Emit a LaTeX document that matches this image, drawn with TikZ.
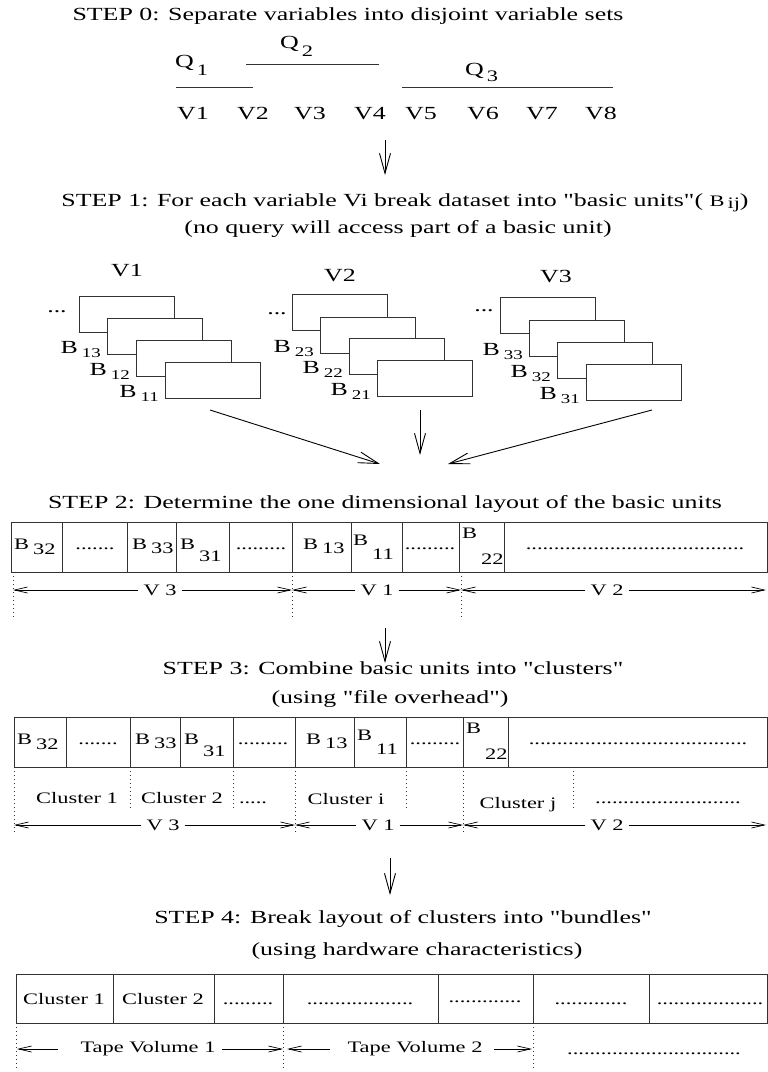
\documentclass[tikz,border=0pt]{standalone}
\usepackage{fontspec}
\newfontfamily\figfont[FakeStretch=1.4]{Liberation Serif}
\usetikzlibrary{arrows.meta}
\newcommand{\tfs}{\figfont\fontsize{18.5}{21}\selectfont}
\newcommand{\lfs}{\figfont\fontsize{16}{18}\selectfont}
\newcommand{\sfs}{\figfont\fontsize{13.5}{15}\selectfont}
\newcommand{\bsubt}[2]{#1\hspace{4pt}\raisebox{-4pt}{\sfs #2}}
\newcommand{\tsub}[3]{#1\hspace{4pt}\raisebox{-#3pt}{#2}}
\tikzset{
  tt/.style={font=\tfs, inner sep=0pt},
  lb/.style={font=\lfs, inner sep=0pt},
  ln/.style={line width=0.8pt, draw=black!80},
  ubox/.style={draw=black!80, line width=0.8pt, fill=white, minimum width=95pt, minimum height=36pt, inner sep=0pt, anchor=north west},
  bigarr/.style={line width=0.9pt, -{Straight Barb[length=20pt,width=11pt]}},
  dimarr/.style={line width=0.7pt, -{Straight Barb[length=13pt,width=6pt]}},
  dotv/.style={line width=0.8pt, dash pattern=on 1pt off 3pt, draw=black!80},
  dimlbl/.style={font=\lfs, inner ysep=0pt, inner xsep=5pt},
}
\begin{document}
\begin{tikzpicture}[x=1pt,y=-1pt]
\useasboundingbox (0,0) rectangle (768,1072);
\fill[white] (0,0) rectangle (768,1072);

% ---------- STEP 0 ----------
\node[tt, anchor=base] (s0) at (348,20) {STEP 0: Separate variables into disjoint variable sets};
\node[tt, anchor=base west] (q1) at (175,67) {Q\hspace{3pt}\raisebox{-8pt}{\lfs 1}};
\node[tt, anchor=base west] (q2) at (280,48) {Q\hspace{3pt}\raisebox{-8pt}{\lfs 2}};
\node[tt, anchor=base west] (q3) at (465,75) {Q\hspace{3pt}\raisebox{-6pt}{\lfs 3}};
\coordinate (q1l) at (176,87); \coordinate (q1r) at (253,87);
\coordinate (q2l) at (246,64); \coordinate (q2r) at (379,64);
\coordinate (q3l) at (402,87); \coordinate (q3r) at (613,87);
\draw[ln] (q1l) -- (q1r);
\draw[ln] (q2l) -- (q2r);
\draw[ln] (q3l) -- (q3r);
\foreach \i/\x in {1/193,2/253,3/310,4/370,5/421,6/483,7/542,8/601}
  \node[tt, anchor=base] (var\i) at (\x,119) {V\i};

\coordinate (a1t) at (385,140); \coordinate (a1b) at (385,175);
\draw[bigarr] (a1t) -- (a1b);

% ---------- STEP 1 ----------
\node[tt, anchor=base] (s1a) at (405,206) {STEP 1: For each variable Vi break dataset into "basic units"( {\lfs B\hspace{3pt}\raisebox{-2pt}{ij}})};
\node[tt, anchor=base] (s1b) at (398,233) {(no query will access part of a basic unit)};

\node[tt, anchor=base] (g1) at (127,276) {V1};
\node[tt, anchor=base] (g2) at (340,281) {V2};
\node[tt, anchor=base] (g3) at (556,282) {V3};

\foreach \n/\x/\y in {a/79/296, b/107/318, c/136/340, d/165/362}
  \node[ubox] (bx1\n) at (\x,\y) {};
\foreach \n/\x/\y in {a/292/294, b/320/317, c/349/338, d/377/360}
  \node[ubox] (bx2\n) at (\x,\y) {};
\foreach \n/\x/\y in {a/500/297, b/529/320, c/557/342, d/586/364}
  \node[ubox] (bx3\n) at (\x,\y) {};

\node[tt] (e1) at (57,312) {...};
\node[tt] (e2) at (277,314) {...};
\node[tt] (e3) at (484,311) {...};

\node[tt, anchor=base east] (b13) at (101,353) {\bsubt{B}{13}};
\node[tt, anchor=base east] (b12) at (130,375) {\bsubt{B}{12}};
\node[tt, anchor=base east] (b11) at (159,397) {\bsubt{B}{11}};
\node[tt, anchor=base east] (b23) at (314,352) {\bsubt{B}{23}};
\node[tt, anchor=base east] (b22) at (343,373) {\bsubt{B}{22}};
\node[tt, anchor=base east] (b21) at (371,395) {\bsubt{B}{21}};
\node[tt, anchor=base east] (b33) at (523,355) {\bsubt{B}{33}};
\node[tt, anchor=base east] (b32) at (551,377) {\bsubt{B}{32}};
\node[tt, anchor=base east] (b31) at (580,399) {\bsubt{B}{31}};

\coordinate (c1s) at (210,410); \coordinate (c1e) at (380,464);
\coordinate (c2s) at (420,410); \coordinate (c2e) at (420,455);
\coordinate (c3s) at (652,410); \coordinate (c3e) at (448,464);
\draw[bigarr] (c1s) -- (c1e);
\draw[bigarr] (c2s) -- (c2e);
\draw[bigarr] (c3s) -- (c3e);

% ---------- STEP 2 ----------
\node[tt, anchor=base] (s2) at (385,508) {STEP 2: Determine the one dimensional layout of the basic units};
\draw[ln] (11,522) rectangle (767,572);
\foreach \x in {62,127,176,229,292,351,402,459,504}
  \draw[ln] (\x,522) -- (\x,572);
\node[lb, anchor=base west] (t2a) at (14,549) {\tsub{B}{32}{5}};
\node[lb, anchor=base] (t2b) at (95,549) {.......};
\node[lb, anchor=base west] (t2c) at (132,549) {\tsub{B}{33}{4}};
\node[lb, anchor=base west] (t2d) at (180,549) {\tsub{B}{31}{12}};
\node[lb, anchor=base] (t2e) at (261,549) {.........};
\node[lb, anchor=base west] (t2f) at (303,549) {\tsub{B}{13}{4}};
\node[lb, anchor=base west] (t2g) at (353,545) {\tsub{B}{11}{14}};
\node[lb, anchor=base] (t2h) at (430,549) {.........};
\node[lb, anchor=base west] (t2i) at (462,538) {\tsub{B}{22}{26}};
\node[lb, anchor=base] (t2j) at (635,549) {.......................................};

\draw[dotv] (13,572) -- (13,618);
\draw[dotv] (292,572) -- (292,618);
\draw[dotv] (461,572) -- (461,618);
\coordinate (d2a) at (13,590); \coordinate (d2b) at (292,590);
\coordinate (d2c) at (461,590); \coordinate (d2d) at (766,590);
\node[dimlbl] (d2v3) at (160,590) {V 3};
\node[dimlbl] (d2v1) at (377,590) {V 1};
\node[dimlbl] (d2v2) at (607,590) {V 2};
\draw[dimarr] (d2v3.west) -- (d2a);
\draw[dimarr] (d2v3.east) -- (d2b);
\draw[dimarr] (d2v1.west) -- (d2b);
\draw[dimarr] (d2v1.east) -- (d2c);
\draw[dimarr] (d2v2.west) -- (d2c);
\draw[dimarr] (d2v2.east) -- (d2d);

\coordinate (a2t) at (385,628); \coordinate (a2b) at (385,663);
\draw[bigarr] (a2t) -- (a2b);

% ---------- STEP 3 ----------
\node[tt, anchor=base] (s3a) at (393,674) {STEP 3: Combine basic units into "clusters"};
\node[tt, anchor=base] (s3b) at (390,703) {(using "file overhead")};
\draw[ln] (14,717) rectangle (767,767);
\foreach \x in {66,130,180,233,295,354,406,463,508}
  \draw[ln] (\x,717) -- (\x,767);
\node[lb, anchor=base west] (t3a) at (17,744) {\tsub{B}{32}{5}};
\node[lb, anchor=base] (t3b) at (98,744) {.......};
\node[lb, anchor=base west] (t3c) at (135,744) {\tsub{B}{33}{4}};
\node[lb, anchor=base west] (t3d) at (184,744) {\tsub{B}{31}{12}};
\node[lb, anchor=base] (t3e) at (263,744) {.........};
\node[lb, anchor=base west] (t3f) at (306,744) {\tsub{B}{13}{4}};
\node[lb, anchor=base west] (t3g) at (357,740) {\tsub{B}{11}{14}};
\node[lb, anchor=base] (t3h) at (435,744) {.........};
\node[lb, anchor=base west] (t3i) at (466,733) {\tsub{B}{22}{26}};
\node[lb, anchor=base] (t3j) at (638,744) {.......................................};

\draw[dotv] (14,767) -- (14,834);
\draw[dotv] (130,767) -- (130,808);
\draw[dotv] (233,767) -- (233,808);
\draw[dotv] (295,767) -- (295,834);
\draw[dotv] (406,767) -- (406,808);
\draw[dotv] (463,767) -- (463,834);
\draw[dotv] (573,767) -- (573,808);
\node[lb, anchor=base] (cl1) at (77,803) {Cluster 1};
\node[lb, anchor=base] (cl2) at (182,803) {Cluster 2};
\node[lb, anchor=base] (cl3) at (253,803) {.....};
\node[lb, anchor=base] (cli) at (346,804) {Cluster i};
\node[lb, anchor=base] (clj) at (518,808) {Cluster j};
\node[lb, anchor=base] (clk) at (668,803) {..........................};

\coordinate (d3a) at (14,825); \coordinate (d3b) at (295,825);
\coordinate (d3c) at (463,825); \coordinate (d3d) at (766,825);
\node[dimlbl] (d3v3) at (163,825) {V 3};
\node[dimlbl] (d3v1) at (378,825) {V 1};
\node[dimlbl] (d3v2) at (607,825) {V 2};
\draw[dimarr] (d3v3.west) -- (d3a);
\draw[dimarr] (d3v3.east) -- (d3b);
\draw[dimarr] (d3v1.west) -- (d3b);
\draw[dimarr] (d3v1.east) -- (d3c);
\draw[dimarr] (d3v2.west) -- (d3c);
\draw[dimarr] (d3v2.east) -- (d3d);

\coordinate (a3t) at (390,858); \coordinate (a3b) at (390,895);
\draw[bigarr] (a3t) -- (a3b);

% ---------- STEP 4 ----------
\node[tt, anchor=base] (s4a) at (403,923) {STEP 4: Break layout of clusters into "bundles"};
\node[tt, anchor=base] (s4b) at (417,955) {(using hardware characteristics)};
\draw[ln] (16,974) rectangle (767,1023);
\foreach \x in {113,214,283,438,533,649}
  \draw[ln] (\x,974) -- (\x,1023);
\node[lb, anchor=base] (u1) at (64,1004) {Cluster 1};
\node[lb, anchor=base] (u2) at (163,1004) {Cluster 2};
\node[lb, anchor=base] (u3) at (248,1004) {.........};
\node[lb, anchor=base] (u4) at (360,1004) {...................};
\node[lb, anchor=base] (u5) at (485,1002) {.............};
\node[lb, anchor=base] (u6) at (591,1004) {.............};
\node[lb, anchor=base] (u7) at (710,1004) {...................};

\draw[dotv] (16,1023) -- (16,1071);
\draw[dotv] (283,1023) -- (283,1071);
\draw[dotv] (533,1023) -- (533,1071);
\node[lb] (tv1) at (148,1049) {Tape Volume 1};
\node[lb] (tv2) at (415,1049) {Tape Volume 2};
\node[lb, anchor=base] (tv3) at (654,1054) {...............................};
\coordinate (p1a) at (17,1049); \coordinate (p1b) at (58,1049);
\coordinate (p1c) at (222,1049); \coordinate (p1d) at (283,1049);
\coordinate (p2a) at (287,1049); \coordinate (p2b) at (330,1049);
\coordinate (p2c) at (494,1049); \coordinate (p2d) at (532,1049);
\draw[dimarr] (p1b) -- (p1a);
\draw[dimarr] (p1c) -- (p1d);
\draw[dimarr] (p2b) -- (p2a);
\draw[dimarr] (p2c) -- (p2d);
\end{tikzpicture}
\end{document}
